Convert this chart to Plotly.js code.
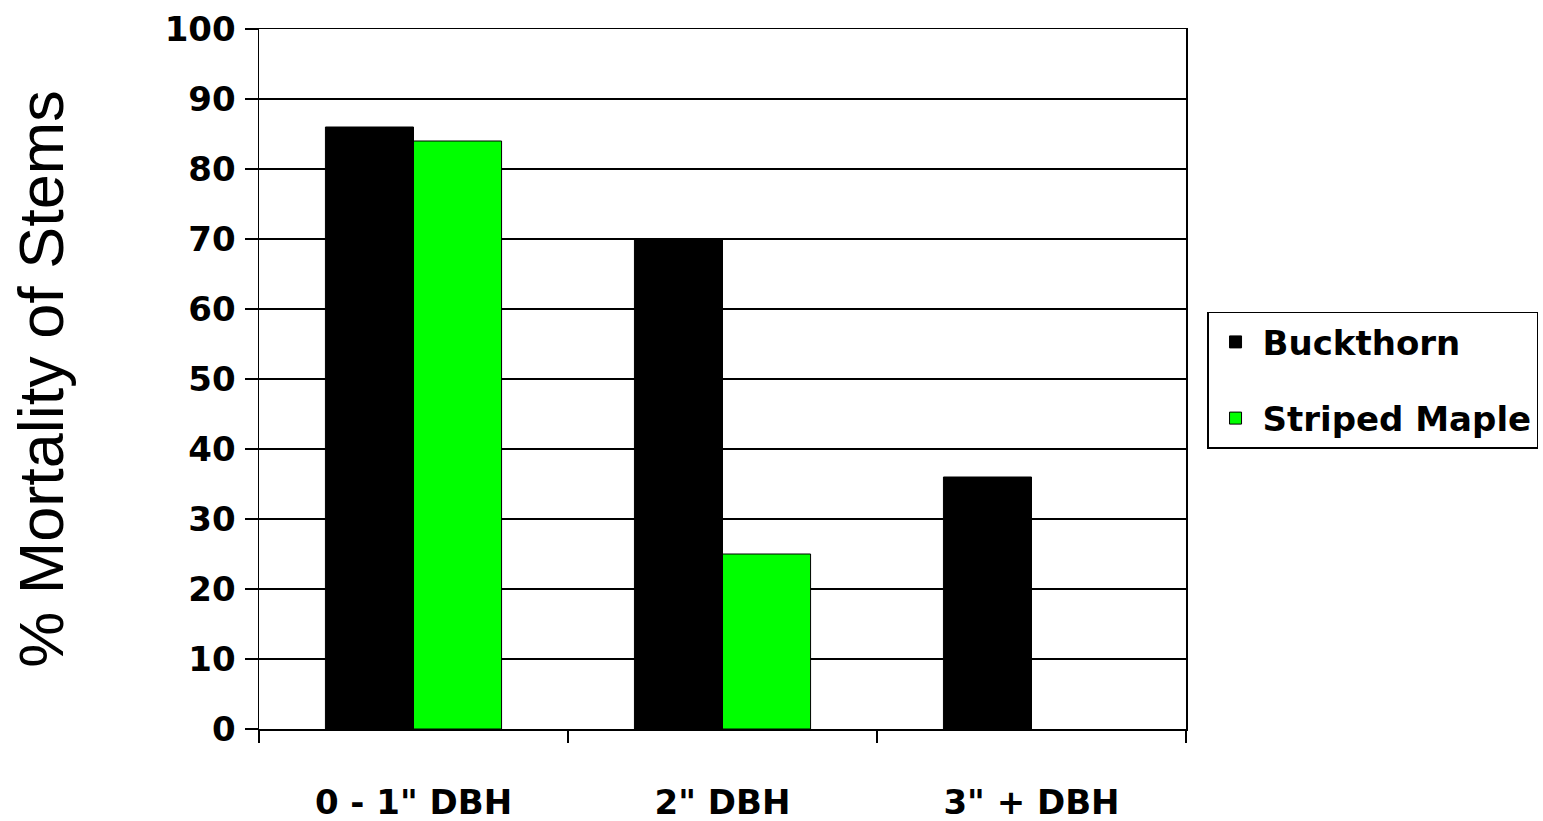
<!DOCTYPE html>
<html>
<head>
<meta charset="utf-8">
<script src="https://cdn.plot.ly/plotly-3.0.1.min.js"></script>
<style>html,body{margin:0;padding:0;background:#fff;}#chart{width:1543px;height:821px;}</style>
</head>
<body>
<div id="chart"></div>
<script>
const categories = ['0 - 1" DBH', '2" DBH', '3" + DBH'];
const buckthorn = [86, 70, 36];
const stripedMaple = [84, 25, null];
const seriesNames = ['Buckthorn', 'Striped Maple'];
const yTicks = [0, 10, 20, 30, 40, 50, 60, 70, 80, 90, 100];

const labelFont = {family: '"Comic Sans MS", "DejaVu Sans", sans-serif', size: 34, color: '#000', weight: 'bold'};

const traces = [
  {type: 'bar', name: seriesNames[0], x: categories, y: buckthorn, legendgroup: 'a',
   marker: {color: '#000000', line: {color: '#000', width: 1}}},
  {type: 'bar', name: seriesNames[1], x: categories, y: stripedMaple, legendgroup: 'b',
   marker: {color: '#00FF00', line: {color: '#000', width: 1}}}
];

const layout = {
  width: 1543, height: 821,
  margin: {l: 259, r: 357, t: 29, b: 92, autoexpand: false},
  paper_bgcolor: '#fff', plot_bgcolor: '#fff',
  barmode: 'group', bargap: 0.43, bargroupgap: 0,
  showlegend: true,
  legend: {x: 1.0227, y: 0.596, xanchor: 'left', yanchor: 'top',
    bordercolor: '#000', borderwidth: 1.5, bgcolor: '#fff',
    font: labelFont, tracegroupgap: 29, traceorder: 'grouped', itemwidth: 44},
  xaxis: {
    type: 'category', tickson: 'boundaries', ticks: 'outside', ticklen: 12, tickwidth: 1.5, tickcolor: '#000',
    showline: true, linecolor: '#000', linewidth: 1.5, mirror: true,
    showgrid: false, tickfont: labelFont, ticklabelstandoff: 43, automargin: false
  },
  yaxis: {
    range: [0, 100], tickvals: yTicks, ticktext: yTicks.map(String),
    ticks: 'outside', ticklen: 13, tickwidth: 1.5, tickcolor: '#000',
    showline: true, linecolor: '#000', linewidth: 1.5, mirror: true,
    showgrid: true, gridcolor: '#000', gridwidth: 1.5, zeroline: false,
    tickfont: labelFont, ticklabelstandoff: 2, automargin: false,
    title: {text: '% Mortality of Stems', standoff: 80,
      font: {family: '"Liberation Sans", Arial, sans-serif', size: 63, color: '#000'}}
  }
};

Plotly.newPlot('chart', traces, layout, {displayModeBar: false, staticPlot: true});
</script>
</body>
</html>
